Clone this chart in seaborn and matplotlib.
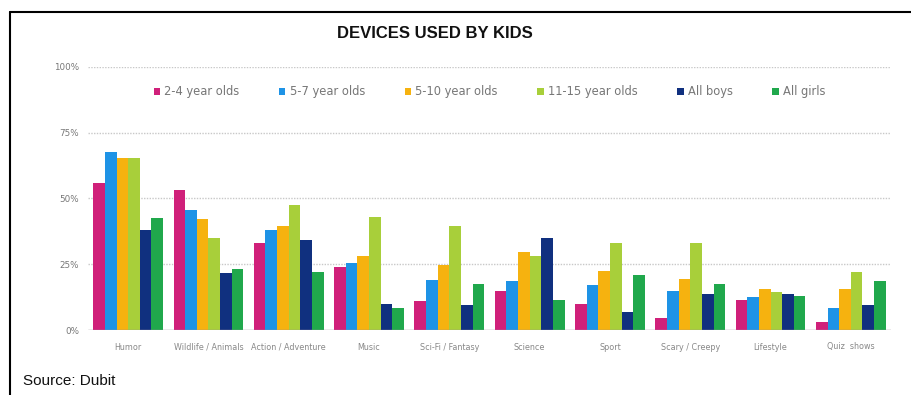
import matplotlib
matplotlib.use("Agg")
import matplotlib.pyplot as plt
from matplotlib.lines import Line2D
import seaborn as sns
import pandas as pd

genres = ["Humor", "Wildlife / Animals", "Action / Adventure", "Music", "Sci-Fi / Fantasy",
          "Science", "Sport", "Scary / Creepy", "Lifestyle", "Quiz  shows"]
groups = ["2-4 year olds", "5-7 year olds", "5-10 year olds", "11-15 year olds", "All boys", "All girls"]

age_2_4 = [56, 53, 33, 24, 11, 15, 10, 4.5, 11.5, 3]
age_5_7 = [67.5, 45.5, 38, 25.5, 19, 18.5, 17, 15, 12.5, 8.5]
age_5_10 = [65.5, 42, 39.5, 28, 24.5, 29.5, 22.5, 19.5, 15.5, 15.5]
age_11_15 = [65.5, 35, 47.5, 43, 39.5, 28, 33, 33, 14.5, 22]
all_boys = [38, 21.5, 34, 10, 9.5, 35, 7, 13.5, 13.5, 9.5]
all_girls = [42.5, 23, 22, 8.5, 17.5, 11.5, 21, 17.5, 13, 18.5]

series = [age_2_4, age_5_7, age_5_10, age_11_15, all_boys, all_girls]
palette = ["#d0207a", "#1e93e6", "#f6b20f", "#a8cf3a", "#10307f", "#20a84c"]

df = pd.DataFrame(
    [(g, grp, v) for grp, vals in zip(groups, series) for g, v in zip(genres, vals)],
    columns=["genre", "group", "share"],
)

sns.set_theme(style="white")
plt.rcParams["font.family"] = ["DejaVu Sans"]

fig = plt.figure(figsize=(9.11, 3.95), dpi=100)
ax = fig.add_axes([88 / 911, (395 - 330) / 395, (891 - 88) / 911, (330 - 66.7) / 395])

sns.barplot(data=df, x="genre", y="share", hue="group", palette=palette,
            width=0.87, saturation=1, ax=ax, legend=True, linewidth=0)

ax.set_xlim(-0.5, len(genres) - 0.5)
ax.set_ylim(0, 100)
ax.set_yticks([0, 25, 50, 75, 100])
ax.set_yticklabels(["0%", "25%", "50%", "75%", "100%"], fontsize=6.3, color="#777777")
ax.tick_params(axis="x", labelsize=5.8, labelcolor="#888888", length=0, pad=9)
ax.tick_params(axis="y", length=0, pad=6.5)
ax.set_xlabel("")
ax.set_ylabel("")
for y in [25, 50, 75, 100]:
    ax.axhline(y, color="#c8c8c8", linewidth=1.0, linestyle=(0, (1, 1)), zorder=0)
ax.axhline(0, color="#9a8f9a", linewidth=1.0, zorder=3)
for s in ax.spines.values():
    s.set_visible(False)

leg = ax.legend(loc="center", bbox_to_anchor=(0.5, 0.905), ncol=6, frameon=False,
                fontsize=8.3, handlelength=0.55, handleheight=0.55, handletextpad=0.35,
                columnspacing=3.45, labelcolor="#777777")

fig.text(435 / 911, 1 - 34 / 395, "DEVICES USED BY KIDS", ha="center", va="center",
         fontsize=12, fontweight="bold", color="#111111", family="Liberation Sans")
fig.text(23 / 911, 1 - 381 / 395, "Source: Dubit", ha="left", va="center",
         fontsize=11, color="#111111", family="Liberation Sans")

fig.add_artist(Line2D([10 / 911, 1.0], [1 - 12 / 395, 1 - 12 / 395],
                      transform=fig.transFigure, color="black", linewidth=1.5))
fig.add_artist(Line2D([10 / 911, 10 / 911], [1 - 12 / 395, 0.0],
                      transform=fig.transFigure, color="black", linewidth=1.5))

fig.savefig("out.png", dpi=100, facecolor="white")
